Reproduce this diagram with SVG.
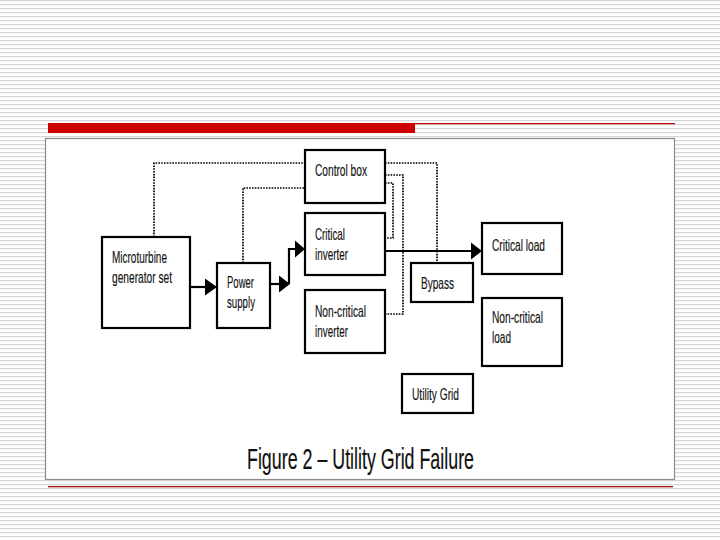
<svg xmlns="http://www.w3.org/2000/svg" width="720" height="540" viewBox="0 0 720 540">
<defs>
<pattern id="stripes" width="8" height="4" patternUnits="userSpaceOnUse">
<rect x="0" y="0" width="8" height="4" fill="#ffffff"/>
<rect x="0" y="0" width="8" height="1.2" fill="#d6d6d6"/>
</pattern>
</defs>
<style>
.box{fill:#ffffff;stroke:#000000;stroke-width:2.2}
.lbl{font-family:"Liberation Sans",Arial,sans-serif;font-size:16.5px;fill:#111111;stroke:#111111;stroke-width:0.15}
.dot{fill:none;stroke:#000000;stroke-width:1.7;stroke-dasharray:1.6 1.2}
.solid{fill:none;stroke:#000000;stroke-width:2.2}
.head{fill:#000000}
</style>
<rect x="0" y="0" width="720" height="540" fill="url(#stripes)"/>
<rect x="48" y="123" width="367" height="10" fill="#cc0000"/>
<rect x="415" y="123" width="260" height="1.2" fill="#c00000"/>
<rect x="45.5" y="138.5" width="629" height="341" fill="#ffffff" stroke="#8a8a8a" stroke-width="1.2"/>
<rect x="48" y="486" width="625" height="1.3" fill="#a01010"/>

<g id="connectors">
<path class="dot" d="M154,237 V163 H305"/>
<path class="dot" d="M385,163 H437 V263"/>
<path class="dot" d="M243,263 V188 H305"/>
<path class="dot" d="M385,175 H403 V314 H385"/>
<path class="dot" d="M385,183 H393 V238 H385"/>
<path class="solid" d="M190,287 H207"/>
<polygon class="head" points="205,278.5 217,287 205,295.5"/>
<path class="solid" d="M270,284 H281"/>
<polygon class="head" points="279,275.5 290,284 279,292.5"/>
<path class="solid" d="M289,284 V249 H297"/>
<polygon class="head" points="295,240.5 305,249 295,257.5"/>
<path class="solid" d="M385,251 H473"/>
<polygon class="head" points="471,242.5 482,251 471,259.5"/>
</g>

<g id="control-box">
<rect class="box" x="305" y="150" width="80" height="53"/>
<text class="lbl" x="315" y="176" textLength="52" lengthAdjust="spacingAndGlyphs">Control box</text>
</g>
<g id="critical-inverter">
<rect class="box" x="305" y="213" width="80" height="62"/>
<text class="lbl" x="315" y="240" textLength="30" lengthAdjust="spacingAndGlyphs">Critical</text>
<text class="lbl" x="315" y="260" textLength="33" lengthAdjust="spacingAndGlyphs">inverter</text>
</g>
<g id="non-critical-inverter">
<rect class="box" x="305" y="290" width="80" height="63"/>
<text class="lbl" x="315" y="317" textLength="51" lengthAdjust="spacingAndGlyphs">Non-critical</text>
<text class="lbl" x="315" y="337" textLength="33" lengthAdjust="spacingAndGlyphs">inverter</text>
</g>
<g id="microturbine">
<rect class="box" x="102" y="237" width="88" height="91"/>
<text class="lbl" x="112" y="263" textLength="55" lengthAdjust="spacingAndGlyphs">Microturbine</text>
<text class="lbl" x="112" y="283" textLength="60" lengthAdjust="spacingAndGlyphs">generator set</text>
</g>
<g id="power-supply">
<rect class="box" x="217" y="263" width="53" height="65"/>
<text class="lbl" x="227" y="288" textLength="27" lengthAdjust="spacingAndGlyphs">Power</text>
<text class="lbl" x="227" y="308" textLength="28" lengthAdjust="spacingAndGlyphs">supply</text>
</g>
<g id="critical-load">
<rect class="box" x="482" y="223" width="80" height="51"/>
<text class="lbl" x="492" y="251" textLength="53" lengthAdjust="spacingAndGlyphs">Critical load</text>
</g>
<g id="bypass">
<rect class="box" x="411" y="263" width="62" height="39"/>
<text class="lbl" x="421" y="289" textLength="33" lengthAdjust="spacingAndGlyphs">Bypass</text>
</g>
<g id="non-critical-load">
<rect class="box" x="482" y="298" width="80" height="68"/>
<text class="lbl" x="492" y="323" textLength="51" lengthAdjust="spacingAndGlyphs">Non-critical</text>
<text class="lbl" x="492" y="343" textLength="19" lengthAdjust="spacingAndGlyphs">load</text>
</g>
<g id="utility-grid">
<rect class="box" x="402" y="374" width="71" height="39"/>
<text class="lbl" x="412" y="400" textLength="47" lengthAdjust="spacingAndGlyphs">Utility Grid</text>
</g>
<text x="247" y="469" font-family="Liberation Sans, Arial, sans-serif" font-size="30" fill="#111111" stroke="#111111" stroke-width="0.2" textLength="227" lengthAdjust="spacingAndGlyphs">Figure 2 – Utility Grid Failure</text>
</svg>
